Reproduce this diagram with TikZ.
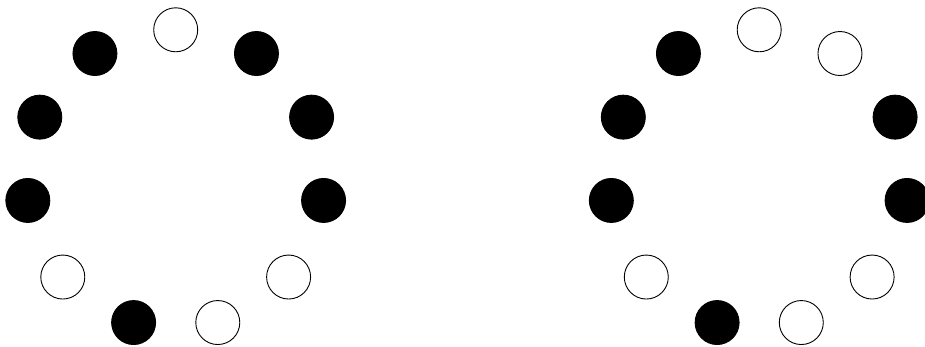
\documentclass[tikz,border=0pt]{standalone}
\begin{document}
\begin{tikzpicture}[x=1pt,y=-1pt,
  dot/.style={circle,draw=black,line width=0.9pt,inner sep=0pt,minimum size=44pt},
  blk/.style={dot,fill=black},
  wht/.style={dot,fill=white}]
\useasboundingbox (0,0) rectangle (925,347);
% left ring: index k = 0..10, angle 90 - k*360/11 (clockwise from top)
\foreach \k/\s in {0/wht,1/blk,2/blk,3/blk,4/wht,5/wht,6/blk,7/wht,8/blk,9/blk,10/blk}{
  \node[\s] (L\k) at ({175.7+149.4*cos(90-\k*360/11)},{179.2-149.4*sin(90-\k*360/11)}) {};
}
\foreach \k/\s in {0/wht,1/wht,2/blk,3/blk,4/wht,5/wht,6/blk,7/wht,8/blk,9/blk,10/blk}{
  \node[\s] (R\k) at ({759.2+149.4*cos(90-\k*360/11)},{179.2-149.4*sin(90-\k*360/11)}) {};
}
\end{tikzpicture}
\end{document}
